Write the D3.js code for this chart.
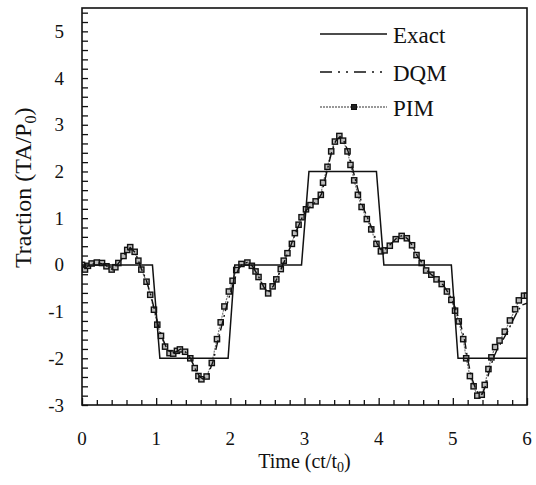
<!DOCTYPE html>
<html>
<head>
<meta charset="utf-8">
<script src="https://cdn.jsdelivr.net/npm/d3@7"></script>
<style>
    body { margin: 0; background: #fff; }
    #chart { width: 536px; height: 485px; }
</style>
</head>
<body>
<div id="chart"></div>
<script>

// exact solution (trapezoidal pulses)
let exactT = [0, 0.95, 1.05, 1.97, 2.06, 2.96, 3.06, 3.97, 4.07, 4.98, 5.07, 6.0];
let exactV = [0, 0, -2, -2, 0, 0, 2, 2, 0, 0, -2, -2];

// DQM solution
let dqmT = [0.00, 0.04, 0.10, 0.20, 0.30, 0.40, 0.49, 0.56, 0.65, 0.72, 0.80, 0.87, 0.93, 0.98, 1.03, 1.08, 1.14, 1.20,
    1.27, 1.33, 1.40, 1.47, 1.53, 1.59, 1.63, 1.70, 1.77, 1.84, 1.90, 1.95, 2.01, 2.06, 2.11, 2.17, 2.23, 2.30,
    2.38, 2.45, 2.51, 2.58, 2.63, 2.69, 2.78, 2.88, 2.97, 3.03, 3.10, 3.17, 3.23, 3.27, 3.32, 3.37, 3.42, 3.48,
    3.53, 3.59, 3.64, 3.69, 3.74, 3.79, 3.86, 3.92, 3.98, 4.04, 4.09, 4.16, 4.24, 4.32, 4.39, 4.46, 4.52, 4.59,
    4.65, 4.72, 4.80, 4.87, 4.94, 5.00, 5.05, 5.10, 5.16, 5.20, 5.25, 5.30, 5.35, 5.40, 5.45, 5.50, 5.55, 5.60,
    5.67, 5.74, 5.81, 5.87, 5.93, 6.00];
let dqmV = [0.00, -0.08, 0.00, 0.05, 0.01, -0.09, 0.03, 0.18, 0.37, 0.26, -0.08, -0.34, -0.66, -0.98, -1.30, -1.55, -1.78, -1.90,
    -1.86, -1.80, -1.87, -2.02, -2.24, -2.40, -2.44, -2.36, -2.05, -1.58, -1.20, -0.88, -0.55, -0.30, -0.09, 0.03, 0.05, -0.03,
    -0.25, -0.47, -0.60, -0.45, -0.29, -0.07, 0.27, 0.68, 1.02, 1.18, 1.28, 1.37, 1.52, 1.78, 2.12, 2.44, 2.65, 2.75,
    2.66, 2.42, 2.12, 1.80, 1.50, 1.23, 0.97, 0.74, 0.45, 0.31, 0.34, 0.44, 0.57, 0.63, 0.56, 0.40, 0.20, 0.03,
    -0.12, -0.22, -0.32, -0.43, -0.60, -0.78, -1.00, -1.24, -1.62, -2.02, -2.40, -2.62, -2.78, -2.76, -2.55, -2.22, -1.98, -1.80,
    -1.62, -1.42, -1.19, -1.00, -0.86, -0.82];

// PIM solution (markers)
let pimT = [0.00, 0.04, 0.08, 0.13, 0.20, 0.27, 0.33, 0.40, 0.45, 0.49, 0.56, 0.61, 0.65, 0.71, 0.76, 0.80, 0.87, 0.92, 0.97,
    1.015, 1.065, 1.12, 1.18, 1.23, 1.28, 1.32, 1.39, 1.46, 1.52, 1.57, 1.61, 1.68, 1.75, 1.82, 1.87, 1.92, 1.98,
    2.03, 2.08, 2.15, 2.23, 2.29, 2.34, 2.38, 2.44, 2.51, 2.57, 2.62, 2.68, 2.72, 2.77, 2.83, 2.87, 2.92, 2.96,
    3.02, 3.08, 3.15, 3.22, 3.25, 3.31, 3.36, 3.41, 3.47, 3.52, 3.58, 3.62, 3.67, 3.72, 3.77, 3.84, 3.90, 3.97,
    4.03, 4.08, 4.15, 4.23, 4.31, 4.38, 4.45, 4.51, 4.58, 4.64, 4.71, 4.78, 4.85, 4.92, 4.98, 5.03, 5.08, 5.14,
    5.18, 5.23, 5.28, 5.33, 5.39, 5.43, 5.48, 5.52, 5.57, 5.63, 5.70, 5.77, 5.84, 5.89, 5.96, 6.00];
let pimV = [0.00, -0.10, -0.02, 0.03, 0.05, 0.04, -0.03, -0.10, -0.05, 0.04, 0.19, 0.32, 0.38, 0.28, 0.09, -0.10, -0.36, -0.64, -0.96,
    -1.28, -1.52, -1.75, -1.89, -1.90, -1.84, -1.81, -1.86, -2.00, -2.21, -2.38, -2.45, -2.39, -2.10, -1.59, -1.23, -0.89, -0.57,
    -0.34, -0.11, 0.02, 0.05, -0.02, -0.14, -0.26, -0.46, -0.61, -0.46, -0.31, -0.09, 0.09, 0.25, 0.45, 0.68, 0.86, 1.02,
    1.19, 1.28, 1.36, 1.50, 1.76, 2.10, 2.43, 2.64, 2.76, 2.66, 2.43, 2.14, 1.81, 1.50, 1.24, 0.98, 0.76, 0.45,
    0.29, 0.31, 0.41, 0.55, 0.62, 0.57, 0.42, 0.21, 0.04, -0.12, -0.21, -0.31, -0.41, -0.57, -0.75, -0.98, -1.21, -1.59,
    -2.00, -2.38, -2.60, -2.80, -2.78, -2.57, -2.23, -1.98, -1.76, -1.62, -1.43, -1.19, -0.95, -0.76, -0.66, -0.66];

// axis ticks
let xTickLabels = [0, 1, 2, 3, 4, 5, 6];
let yTickLabels = [-3, -2, -1, 0, 1, 2, 3, 4, 5];
let xMinorTicks = d3.range(0, 61, 2).map(d => d / 10);
let yMinorTicks = d3.range(-30, 55, 2).map(d => d / 10);

const serif = "'Liberation Serif', 'Times New Roman', 'DejaVu Serif', serif";


class TractionVis {

    constructor(parentElement) {
        this.parentElement = parentElement;
        this.initVis();
    }

    initVis() {
        let vis = this;

        vis.margin = {top: 8, right: 9, bottom: 80, left: 82};
        vis.width = 536 - vis.margin.left - vis.margin.right;
        vis.height = 485 - vis.margin.top - vis.margin.bottom;

        vis.svg = d3.select("#" + vis.parentElement).append("svg")
            .attr("width", 536)
            .attr("height", 485)
            .attr("font-family", serif)
            .append("g")
            .attr("transform", `translate(${vis.margin.left}, ${vis.margin.top})`);

        vis.x = d3.scaleLinear().domain([0, 6]).range([0, vis.width]);
        vis.y = d3.scaleLinear().domain([-3, 5.5]).range([vis.height, 0]);

        vis.updateVis();
    }

    updateVis() {
        let vis = this;

        // minor ticks, pointing inward
        let xAxis = d3.axisBottom(vis.x).tickValues(xMinorTicks)
            .tickSizeInner(-5).tickSizeOuter(0).tickFormat("");
        let yAxis = d3.axisLeft(vis.y).tickValues(yMinorTicks)
            .tickSizeInner(-6).tickSizeOuter(0).tickFormat("");

        let xg = vis.svg.append("g").attr("transform", `translate(0, ${vis.height})`).call(xAxis);
        let yg = vis.svg.append("g").call(yAxis);
        [xg, yg].forEach(g => {
            g.select(".domain").remove();
            g.selectAll("line").attr("stroke", "#111").attr("stroke-width", 1.3);
        });
        xg.selectAll(".tick").filter(d => Number.isInteger(d)).select("line").attr("y2", -7);

        // tick labels
        vis.svg.selectAll(".xlab")
            .data(xTickLabels)
            .enter().append("text")
            .attr("x", d => vis.x(d))
            .attr("y", vis.height + 40)
            .attr("text-anchor", "middle")
            .attr("font-size", 19)
            .attr("fill", "#111")
            .text(d => d);

        vis.svg.selectAll(".ylab")
            .data(yTickLabels)
            .enter().append("text")
            .attr("x", -18)
            .attr("y", d => vis.y(d) + 6.5)
            .attr("text-anchor", "end")
            .attr("font-size", 19)
            .attr("fill", "#111")
            .text(d => d);

        // axis titles
        let xt = vis.svg.append("text")
            .attr("x", vis.width / 2)
            .attr("y", vis.height + 63)
            .attr("text-anchor", "middle")
            .attr("font-size", 20)
            .attr("fill", "#111");
        xt.append("tspan").text("Time (ct/t");
        xt.append("tspan").attr("font-size", 14).attr("dy", 4).text("0");
        xt.append("tspan").attr("dy", -4).text(")");

        let yt = vis.svg.append("text")
            .attr("transform", `translate(-51, ${vis.y(1.65)}) rotate(-90)`)
            .attr("text-anchor", "middle")
            .attr("font-size", 24)
            .attr("fill", "#111");
        yt.append("tspan").text("Traction (TA/P");
        yt.append("tspan").attr("font-size", 16).attr("dy", 5).text("0");
        yt.append("tspan").attr("dy", -5).text(")");

        // lines
        let line = d3.line().x(d => vis.x(d[0])).y(d => vis.y(d[1]));

        vis.svg.append("defs").append("clipPath").attr("id", "clip")
            .append("rect").attr("width", vis.width).attr("height", vis.height);
        let plot = vis.svg.append("g").attr("clip-path", "url(#clip)");

        plot.append("path")
            .datum(d3.zip(pimT, pimV))
            .attr("d", line)
            .attr("fill", "none")
            .attr("stroke", "#777")
            .attr("stroke-width", 1.2)
            .attr("stroke-dasharray", "2,1");

        plot.selectAll(".pim")
            .data(d3.zip(pimT, pimV))
            .enter().append("rect")
            .attr("x", d => vis.x(d[0]) - 2.6)
            .attr("y", d => vis.y(d[1]) - 2.6)
            .attr("width", 5.2)
            .attr("height", 5.2)
            .attr("fill", "#bbb")
            .attr("stroke", "#111")
            .attr("stroke-width", 1.4);

        plot.append("path")
            .datum(d3.zip(dqmT, dqmV))
            .attr("d", line)
            .attr("fill", "none")
            .attr("stroke", "#111")
            .attr("stroke-width", 1.4)
            .attr("stroke-dasharray", "10,4,2,4");

        plot.append("path")
            .datum(d3.zip(exactT, exactV))
            .attr("d", line)
            .attr("fill", "none")
            .attr("stroke", "#111")
            .attr("stroke-width", 1.5);

        // frame
        vis.svg.append("rect")
            .attr("width", vis.width)
            .attr("height", vis.height)
            .attr("fill", "none")
            .attr("stroke", "#111")
            .attr("stroke-width", 1.6);

        // legend
        let legend = vis.svg.append("g").attr("transform", "translate(238, 0)");
        let items = [
            {name: "Exact", y: 26, dash: null, color: "#111"},
            {name: "DQM", y: 64, dash: "12,6,2,6,2,6", color: "#111"},
            {name: "PIM", y: 99, dash: "2,1", color: "#777"}
        ];
        items.forEach(it => {
            legend.append("line")
                .attr("x1", 0).attr("x2", 67)
                .attr("y1", it.y).attr("y2", it.y)
                .attr("stroke", it.color)
                .attr("stroke-width", 1.5)
                .attr("stroke-dasharray", it.dash);
            legend.append("text")
                .attr("x", 73)
                .attr("y", it.y + 9)
                .attr("font-size", 23)
                .attr("fill", "#111")
                .text(it.name);
        });
        legend.append("rect")
            .attr("x", 31.5).attr("y", 99 - 2.5)
            .attr("width", 5).attr("height", 5)
            .attr("fill", "#222").attr("stroke", "#111");
    }
}

let myTractionVis = new TractionVis("chart");

</script>
</body>
</html>
